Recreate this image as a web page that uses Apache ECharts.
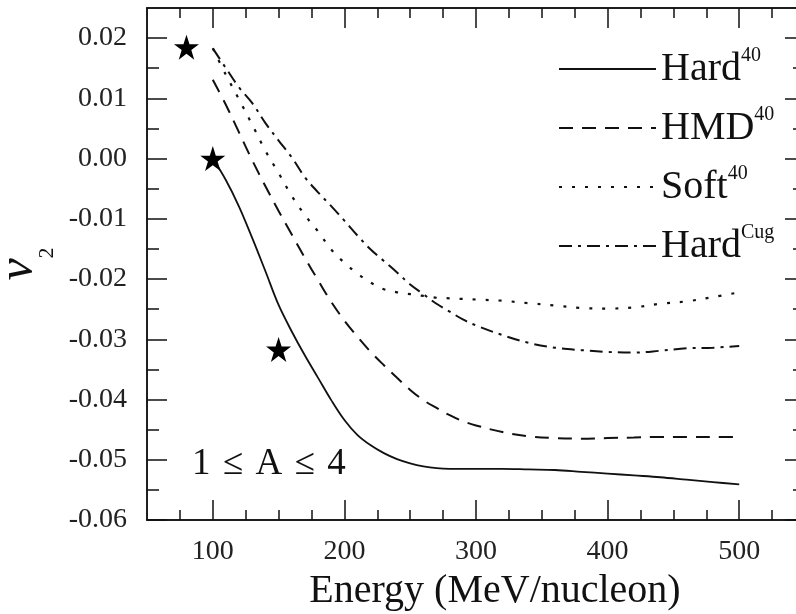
<!DOCTYPE html>
<html>
<head>
<meta charset="utf-8">
<script src="https://cdn.jsdelivr.net/npm/echarts@6/dist/echarts.min.js"></script>
<style>html,body{margin:0;padding:0;background:#fff;}#c{width:796px;height:614px;}</style>
</head>
<body>
<div id="c"></div>
<script>
const energy = [100,110,120,130,140,150,160,170,180,190,200,210,220,230,240,250,260,270,280,290,300,320,340,360,380,400,420,440,460,480,500];
const hard40 = [0.0000,-0.0036,-0.0080,-0.0132,-0.0187,-0.0243,-0.0287,-0.0327,-0.0364,-0.0401,-0.0434,-0.0459,-0.0476,-0.0489,-0.0499,-0.0506,-0.0511,-0.0514,-0.0515,-0.0515,-0.0515,-0.0515,-0.0516,-0.0517,-0.0520,-0.0523,-0.0526,-0.0529,-0.0533,-0.0537,-0.0541];
const hmd40 = [0.0131,0.0089,0.0043,-0.0003,-0.0046,-0.0087,-0.0126,-0.0165,-0.0202,-0.0238,-0.0269,-0.0296,-0.0321,-0.0343,-0.0364,-0.0384,-0.0401,-0.0414,-0.0426,-0.0436,-0.0443,-0.0454,-0.0461,-0.0464,-0.0465,-0.0464,-0.0463,-0.0462,-0.0462,-0.0462,-0.0462];
const soft40 = [0.0183,0.0139,0.0098,0.0056,0.0013,-0.0024,-0.0062,-0.0094,-0.0121,-0.0151,-0.0173,-0.0191,-0.0206,-0.0217,-0.0222,-0.0225,-0.0228,-0.0231,-0.0232,-0.0233,-0.0234,-0.0236,-0.0240,-0.0244,-0.0248,-0.0249,-0.0247,-0.0241,-0.0237,-0.0230,-0.0222];
const hardCug = [0.0183,0.0150,0.0118,0.0092,0.0059,0.0030,0.0002,-0.0031,-0.0056,-0.0079,-0.0103,-0.0128,-0.0151,-0.0170,-0.0189,-0.0209,-0.0225,-0.0241,-0.0254,-0.0267,-0.0277,-0.0293,-0.0306,-0.0314,-0.0318,-0.0321,-0.0322,-0.0319,-0.0315,-0.0314,-0.0311];
const starE = [80, 100, 150];
const starV = [0.0185, 0.0000, -0.0317];
const seriesNames = ['Hard 40', 'HMD 40', 'Soft 40', 'Hard Cug'];
const legendMain = ['Hard', 'HMD', 'Soft', 'Hard'];
const legendSup = ['40', '40', '40', 'Cug'];
const xMajorTicks = [100, 200, 300, 400, 500];
const xMinorTicks = [75,125,150,175,225,250,275,325,350,375,425,450,475,525];
const yMajorTicks = [-0.06,-0.05,-0.04,-0.03,-0.02,-0.01,0.00,0.01,0.02];
const yMinorTicks = [-0.055,-0.045,-0.035,-0.025,-0.015,-0.005,0.005,0.015];
const xTitle = 'Energy (MeV/nucleon)';
const yTitleMain = 'ν';
const yTitleSub = '2';
const noteText = '1\u200A ≤\u200A A\u200A ≤\u200A 4';

const SERIF = '"Liberation Serif", "Times New Roman", serif';
const INK = '#111';
const chart = echarts.init(document.getElementById('c'), null, {renderer: 'canvas'});

function pairs(xs, ys) { return xs.map((x, i) => [x, ys[i]]); }

function xAx(pos, ticks, len, labels) {
  return {
    type: 'value', position: pos, min: 50, max: 550, gridIndex: 0,
    axisLine: {show: true, onZero: false, lineStyle: {color: INK, width: 1.5}},
    axisTick: {show: true, inside: true, length: len, customValues: ticks, lineStyle: {color: INK, width: 1.5}},
    axisLabel: labels ? {show: true, customValues: ticks, margin: 18, color: '#222', fontFamily: SERIF, fontSize: 28} : {show: false},
    splitLine: {show: false}, minorTick: {show: false}
  };
}
function yAx(pos, ticks, len, labels, withName) {
  const a = {
    type: 'value', position: pos, min: -0.06, max: 0.025, gridIndex: 0,
    axisLine: {show: true, onZero: false, lineStyle: {color: INK, width: 1.5}},
    axisTick: {show: true, inside: true, length: len, customValues: ticks, lineStyle: {color: INK, width: 1.5}},
    axisLabel: labels ? {show: true, customValues: ticks, margin: 20, color: '#222', fontFamily: SERIF, fontSize: 28,
      formatter: v => v.toFixed(2)} : {show: false},
    splitLine: {show: false}, minorTick: {show: false}
  };
  if (withName) {
    a.name = '{a|' + yTitleMain + '}{b|' + yTitleSub + '}';
    a.nameLocation = 'middle';
    a.nameRotate = 90;
    a.nameGap = 86;
    a.nameTextStyle = {
      color: INK,
      rich: {
        a: {fontFamily: SERIF, fontStyle: 'italic', fontSize: 50, lineHeight: 50, verticalAlign: 'top', color: INK},
        b: {fontFamily: SERIF, fontSize: 22, lineHeight: 64, verticalAlign: 'bottom', color: INK}
      }
    };
  }
  return a;
}

const styles = [
  {type: 'solid', width: 1.8},
  {type: [14, 9], width: 2},
  {type: [3, 10], width: 2.2},
  {type: [13, 6, 3, 6], width: 2}
];
const datasets = [hard40, hmd40, soft40, hardCug];

const series = datasets.map((d, i) => ({
  name: seriesNames[i], type: 'line', xAxisIndex: 0, yAxisIndex: 0,
  data: pairs(energy, d), showSymbol: false, symbol: 'none', smooth: 0.35,
  lineStyle: {color: INK, width: styles[i].width, type: styles[i].type},
  itemStyle: {color: INK}
}));
series.push({
  name: 'stars', type: 'scatter', xAxisIndex: 0, yAxisIndex: 0,
  data: pairs(starE, starV),
  symbol: 'path://M50,0 L61.8,35.1 L98.9,35.1 L68.9,56.7 L80.3,91.9 L50,70 L19.7,91.9 L31.1,56.7 L1.1,35.1 L38.2,35.1 Z',
  symbolSize: 25, itemStyle: {color: '#000', opacity: 1}, z: 5
});

const option = {
  animation: false,
  backgroundColor: '#fff',
  grid: {left: 147, top: 8, width: 658, height: 512, containLabel: false, outerBoundsMode: 'none'},
  xAxis: [
    xAx('bottom', xMajorTicks, 20, true),
    xAx('bottom', xMinorTicks, 10, false),
    xAx('top', xMajorTicks, 20, false),
    xAx('top', xMinorTicks, 10, false)
  ],
  yAxis: [
    yAx('left', yMajorTicks, 20, true, true),
    yAx('left', yMinorTicks, 12, false, false),
    yAx('right', yMajorTicks, 20, false, false),
    yAx('right', yMinorTicks, 12, false, false)
  ],
  legend: {
    data: seriesNames, orient: 'vertical', left: 558, top: 46, padding: 0,
    itemWidth: 97, itemHeight: 46, itemGap: 16, selectedMode: false,
    itemStyle: {color: 'rgba(0,0,0,0)', borderColor: 'rgba(0,0,0,0)', borderWidth: 0, opacity: 0},
    formatter: name => {
      const i = seriesNames.indexOf(name);
      return '{n|' + legendMain[i] + '}{s|' + legendSup[i] + '}';
    },
    textStyle: {
      color: INK,
      rich: {
        n: {fontFamily: SERIF, fontSize: 40, lineHeight: 46, color: INK},
        s: {fontFamily: SERIF, fontSize: 20, lineHeight: 22, verticalAlign: 'top', color: INK}
      }
    }
  },
  graphic: [
    {type: 'text', x: 495, y: 591,
      style: {text: xTitle, align: 'center', verticalAlign: 'middle', font: '40px ' + SERIF, fill: INK}},
    {type: 'text', x: 192, y: 464,
      style: {text: noteText, align: 'left', verticalAlign: 'middle', font: '37px ' + SERIF, fill: INK}}
  ],
  series: series
};
chart.setOption(option);
</script>
</body>
</html>
